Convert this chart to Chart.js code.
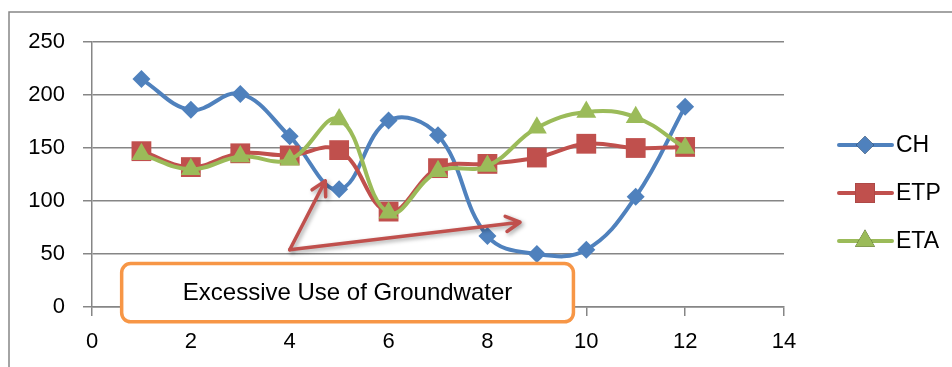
<!DOCTYPE html>
<html lang="en">
<head>
    <meta charset="UTF-8">
    <title>CH, ETP and ETA</title>
    <script src="https://cdn.jsdelivr.net/npm/chart.js"></script>
    <style>
        html, body { margin: 0; padding: 0; background: #fff; }
        .chart-box { width: 952px; height: 367px; position: relative; }
    </style>
</head>
<body>
    <div class="chart-box">
        <canvas id="waterChart"></canvas>
    </div>

    <script>
        // x values (months)
        const months = [1, 2, 3, 4, 5, 6, 7, 8, 9, 10, 11, 12];
        const seriesNames = ['CH', 'ETP', 'ETA'];
        const chValues  = [215, 186, 201, 161, 111, 176, 162, 67, 50, 54, 104, 189];
        const etpValues = [147, 132, 145, 143, 148, 90, 131, 135, 141, 154, 150, 151];
        const etaValues = [144, 130, 142, 139, 177, 89, 128, 133, 169, 184, 179, 150];
        const xTicks = [0, 2, 4, 6, 8, 10, 12, 14];
        const yTicks = [0, 50, 100, 150, 200, 250];
        const boxLabel = 'Excessive Use of Groundwater';

        const colors = ['#4f81bd', '#c0504d', '#9bbb59'];
        const pointStyles = ['rectRot', 'rect', 'triangle'];
        const pointSizes = [9, 14, 11.5];
        const axisGrey = '#868686';

        function toPoints(values) {
            return months.map((m, i) => ({ x: m, y: values[i] }));
        }

        // outer frame + legend + callout box and arrows
        const extras = {
            id: 'extras',
            beforeDraw(chart) {
                const ctx = chart.ctx;
                ctx.save();
                ctx.strokeStyle = axisGrey;
                ctx.lineWidth = 1.5;
                ctx.beginPath();
                ctx.moveTo(9, 367);
                ctx.lineTo(9, 12);
                ctx.lineTo(952, 12);
                ctx.stroke();
                ctx.restore();
            },
            afterDraw(chart) {
                const ctx = chart.ctx;
                const xs = chart.scales.x, ys = chart.scales.y;

                // legend
                ctx.save();
                ctx.font = '23px "Liberation Sans", Arial, sans-serif';
                ctx.textBaseline = 'middle';
                const rows = [145, 193, 241];
                seriesNames.forEach((name, i) => {
                    const y = rows[i];
                    ctx.strokeStyle = colors[i];
                    ctx.lineWidth = 4;
                    ctx.lineCap = 'round';
                    ctx.beginPath();
                    ctx.moveTo(839, y);
                    ctx.lineTo(892, y);
                    ctx.stroke();
                    Chart.helpers.drawPoint(ctx, {
                        pointStyle: pointStyles[i], radius: pointSizes[i],
                        rotation: 0, borderWidth: 0
                    }, 865, y);
                    ctx.fillStyle = colors[i];
                    ctx.fill();
                    ctx.fillStyle = '#000';
                    ctx.fillText(name, 896, y + 1);
                });
                ctx.restore();

                // arrows
                const start = [xs.getPixelForValue(4.0), ys.getPixelForValue(54)];
                const ends = [
                    [xs.getPixelForValue(4.72), ys.getPixelForValue(119)],
                    [xs.getPixelForValue(8.66), ys.getPixelForValue(80)]
                ];
                ctx.save();
                ctx.strokeStyle = '#c0504d';
                ctx.lineWidth = 3.5;
                ctx.lineCap = 'round';
                ctx.lineJoin = 'round';
                ctx.shadowColor = 'rgba(0,0,0,0.35)';
                ctx.shadowBlur = 4;
                ctx.shadowOffsetX = 2;
                ctx.shadowOffsetY = 2;
                ends.forEach(([ex, ey]) => {
                    const ang = Math.atan2(ey - start[1], ex - start[0]);
                    ctx.beginPath();
                    ctx.moveTo(start[0], start[1]);
                    ctx.lineTo(ex, ey);
                    ctx.moveTo(ex - 16 * Math.cos(ang - 0.5), ey - 16 * Math.sin(ang - 0.5));
                    ctx.lineTo(ex, ey);
                    ctx.lineTo(ex - 16 * Math.cos(ang + 0.5), ey - 16 * Math.sin(ang + 0.5));
                    ctx.stroke();
                });
                ctx.restore();

                // callout box
                const bx1 = xs.getPixelForValue(0.6), bx2 = xs.getPixelForValue(9.74);
                const by1 = ys.getPixelForValue(41), by2 = ys.getPixelForValue(-14);
                ctx.save();
                ctx.beginPath();
                ctx.roundRect(bx1, by1, bx2 - bx1, by2 - by1, 9);
                ctx.fillStyle = '#fff';
                ctx.fill();
                ctx.strokeStyle = '#f79646';
                ctx.lineWidth = 3.5;
                ctx.stroke();
                ctx.fillStyle = '#000';
                ctx.font = '24px "Liberation Sans", Arial, sans-serif';
                ctx.textAlign = 'center';
                ctx.textBaseline = 'middle';
                ctx.fillText(boxLabel, (bx1 + bx2) / 2, (by1 + by2) / 2 + 1);
                ctx.restore();
            }
        };

        const datasets = [chValues, etpValues, etaValues].map((vals, i) => ({
            label: seriesNames[i],
            data: toPoints(vals),
            borderColor: colors[i],
            backgroundColor: colors[i],
            borderWidth: 4,
            pointStyle: pointStyles[i],
            pointRadius: pointSizes[i],
            pointBorderWidth: 0,
            pointHoverRadius: pointSizes[i],
            tension: 0.4,
            order: 3 - i
        }));

        const tickFont = { family: '"Liberation Sans", Arial, sans-serif', size: 22 };

        new Chart(document.getElementById('waterChart'), {
            type: 'line',
            data: { datasets: datasets },
            options: {
                responsive: true,
                maintainAspectRatio: false,
                animation: false,
                layout: { padding: { left: 0, top: 42, right: 168, bottom: 0 } },
                plugins: { legend: { display: false }, tooltip: { enabled: false } },
                scales: {
                    x: {
                        type: 'linear',
                        min: 0, max: 14,
                        afterBuildTicks: s => { s.ticks = xTicks.map(v => ({ value: v })); },
                        afterFit: s => { s.height = 60; },
                        ticks: { color: '#000', font: tickFont, padding: 13, maxRotation: 0 },
                        grid: { drawOnChartArea: false, drawTicks: true, tickLength: 9, color: axisGrey, lineWidth: 1.5 },
                        border: { display: true, color: axisGrey, width: 1.5 }
                    },
                    y: {
                        min: 0, max: 250,
                        afterBuildTicks: s => { s.ticks = yTicks.map(v => ({ value: v })); },
                        afterFit: s => { s.width = 92; },
                        ticks: { color: '#000', font: tickFont, padding: 18 },
                        grid: { color: axisGrey, lineWidth: 1.5, tickLength: 9 },
                        border: { display: true, color: axisGrey, width: 1.5 }
                    }
                }
            },
            plugins: [extras]
        });
    </script>
</body>
</html>
